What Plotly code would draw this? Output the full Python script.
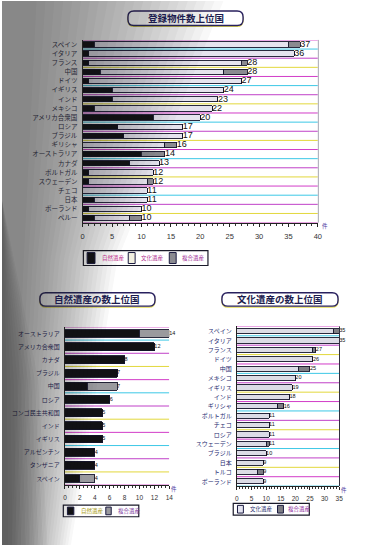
import plotly.graph_objects as go

# ---------------- data ----------------
top_countries = ["スペイン", "イタリア", "フランス", "中国", "ドイツ", "イギリス", "インド", "メキシコ",
                 "アメリカ合衆国", "ロシア", "ブラジル", "ギリシャ", "オーストラリア", "カナダ",
                 "ポルトガル", "スウェーデン", "チェコ", "日本", "ポーランド", "ペルー"]
top_natural = [2, 1, 1, 3, 1, 5, 5, 2, 12, 6, 7, 0, 10, 8, 1, 1, 0, 2, 1, 2]
top_cultural = [33, 35, 26, 21, 26, 19, 18, 20, 8, 11, 10, 14, 0, 5, 11, 10, 11, 9, 9, 6]
top_mixed = [2, 0, 1, 4, 0, 0, 0, 0, 0, 0, 0, 2, 4, 0, 0, 1, 0, 0, 0, 2]

nat_countries = ["オーストラリア", "アメリカ合衆国", "カナダ", "ブラジル", "中国", "ロシア",
                 "コンゴ民主共和国", "インド", "イギリス", "アルゼンチン", "タンザニア", "スペイン"]
nat_natural = [10, 12, 8, 7, 3, 6, 5, 5, 5, 4, 4, 2]
nat_mixed = [4, 0, 0, 0, 4, 0, 0, 0, 0, 0, 0, 2]

cul_countries = ["スペイン", "イタリア", "フランス", "ドイツ", "中国", "メキシコ", "イギリス", "インド",
                 "ギリシャ", "ポルトガル", "チェコ", "ロシア", "スウェーデン", "ブラジル", "日本",
                 "トルコ", "ポーランド"]
cul_cultural = [33, 35, 26, 26, 21, 20, 19, 18, 14, 11, 11, 11, 10, 10, 9, 7, 9]
cul_mixed = [2, 0, 1, 0, 4, 0, 0, 0, 2, 0, 0, 0, 1, 0, 0, 2, 0]

series_names = ["自然遺産", "文化遺産", "複合遺産"]
titles = ["登録物件数上位国", "自然遺産の数上位国", "文化遺産の数上位国"]
unit = "件"
top_ticks = [0, 5, 10, 15, 20, 25, 30, 35, 40]
nat_ticks = [0, 2, 4, 6, 8, 10, 12, 14]
cul_ticks = [0, 5, 10, 15, 20, 25, 30, 35]

# ---------------- style ----------------
W, H = 375, 545
FONT = "Noto Sans CJK JP"
C_NAT = "#111114"
C_CUL = "#e6e4ee"
C_MIX = "#8a8a90"
OUTLINE = "#14142a"
GRID_CYCLE = ["#d23cc8", "#3cc8e6", "#c040c8", "#e2d83c"]


def px(x):
    return x / W


def py(y):
    return 1 - y / H


fig = go.Figure()


def add_bar(x, y, color, xa, ya, width):
    fig.add_trace(go.Bar(
        x=x, y=y, orientation="h", width=width,
        marker=dict(color=color, line=dict(color=OUTLINE, width=0.9)),
        xaxis=xa, yaxis=ya, showlegend=False, hoverinfo="skip"))


def add_values(totals, cats, xa, ya, size):
    fig.add_trace(go.Scatter(
        x=totals, y=cats, mode="text", text=[str(t) for t in totals],
        textposition="middle right", textfont=dict(size=size, color="#111", family="Liberation Sans"),
        xaxis=xa, yaxis=ya, showlegend=False, hoverinfo="skip", cliponaxis=False))


# main chart
add_bar(top_natural, top_countries, C_NAT, "x", "y", 0.58)
add_bar(top_cultural, top_countries, C_CUL, "x", "y", 0.58)
add_bar(top_mixed, top_countries, C_MIX, "x", "y", 0.58)
top_tot = [a + b + c for a, b, c in zip(top_natural, top_cultural, top_mixed)]
add_values(top_tot, top_countries, "x", "y", 9)

# natural chart
add_bar(nat_natural, nat_countries, C_NAT, "x2", "y2", 0.6)
add_bar(nat_mixed, nat_countries, "#9a9a9e", "x2", "y2", 0.6)
nat_tot = [a + b for a, b in zip(nat_natural, nat_mixed)]
add_values(nat_tot, nat_countries, "x2", "y2", 5.5)

# cultural chart
add_bar(cul_cultural, cul_countries, "#dcdce6", "x3", "y3", 0.55)
add_bar(cul_mixed, cul_countries, "#7e7e84", "x3", "y3", 0.55)
cul_tot = [a + b for a, b in zip(cul_cultural, cul_mixed)]
add_values(cul_tot, cul_countries, "x3", "y3", 5.5)


def xaxis_cfg(dom, rng, ticks, fsize, minor_dtick):
    return dict(domain=[px(dom[0]), px(dom[1])], range=rng, tickvals=ticks,
                ticks="outside", ticklen=3, tickcolor="#222", tickwidth=1,
                minor=dict(dtick=minor_dtick, ticks="outside", ticklen=2, tickcolor="#333"),
                showline=True, linecolor="#222", linewidth=1, showgrid=False, zeroline=False,
                tickfont=dict(size=fsize, color="#333", family="Liberation Sans"),
                ticklabelstandoff=3, fixedrange=True)


def yaxis_cfg(dom, n, fsize, color, anchor):
    return dict(domain=[py(dom[1]), py(dom[0])], type="category", range=[n - 0.5, -0.5],
                showline=True, linecolor="#222", linewidth=1, ticks="", showgrid=False,
                zeroline=False, tickfont=dict(size=fsize, color=color, family=FONT),
                ticklabelstandoff=3, anchor=anchor, fixedrange=True)


fig.update_layout(
    width=W, height=H, margin=dict(l=0, r=0, t=0, b=0),
    paper_bgcolor="white", plot_bgcolor="rgba(0,0,0,0)", barmode="stack",
    font=dict(family=FONT), showlegend=False,
    xaxis=dict(anchor="y", **xaxis_cfg((82, 321), [0, 40], top_ticks, 7.5, 1)),
    yaxis=yaxis_cfg((39, 222), len(top_countries), 6.5, "#35354f", "x"),
    xaxis2=dict(anchor="y2", **xaxis_cfg((64, 170), [0, 14], nat_ticks, 6.5, 0.5)),
    yaxis2=yaxis_cfg((326.5, 485), len(nat_countries), 6, "#2a2a66", "x2"),
    xaxis3=dict(anchor="y3", **xaxis_cfg((238.7, 342.7), [0, 35], cul_ticks, 6.5, 1)),
    yaxis3=yaxis_cfg((326, 486), len(cul_countries), 6, "#1e2a70", "x3"),
)

shapes = []
annotations = []

# coloured row separators
for (n, xr, yr, xmax) in [(len(top_countries), "x", "y", 40),
                           (len(nat_countries), "x2", "y2", 14),
                           (len(cul_countries), "x3", "y3", 35)]:
    for i in range(n + 1):
        shapes.append(dict(type="line", xref=xr, yref=yr, x0=0, x1=xmax, y0=i - 0.5, y1=i - 0.5,
                           line=dict(color=GRID_CYCLE[i % len(GRID_CYCLE)], width=1), layer="below"))

# right frame lines
shapes.append(dict(type="line", xref="paper", yref="paper", x0=px(321.5), x1=px(321.5),
                   y0=py(222), y1=py(39), line=dict(color="#9090a0", width=0.8)))
shapes.append(dict(type="line", xref="paper", yref="paper", x0=px(343), x1=px(343),
                   y0=py(486), y1=py(326), line=dict(color="#303040", width=1)))


def rrect(x0, y0, x1, y1, r):
    return (f"M {px(x0 + r)},{py(y0)} L {px(x1 - r)},{py(y0)} "
            f"Q {px(x1)},{py(y0)} {px(x1)},{py(y0 + r)} L {px(x1)},{py(y1 - r)} "
            f"Q {px(x1)},{py(y1)} {px(x1 - r)},{py(y1)} L {px(x0 + r)},{py(y1)} "
            f"Q {px(x0)},{py(y1)} {px(x0)},{py(y1 - r)} L {px(x0)},{py(y0 + r)} "
            f"Q {px(x0)},{py(y0)} {px(x0 + r)},{py(y0)} Z")


# title boxes
for (t, box) in zip(titles, [(128, 10, 245, 24.5), (38.5, 292.3, 155.5, 305.7), (223.5, 292.3, 341.5, 305.7)]):
    x0, y0, x1, y1 = box
    shapes.append(dict(type="path", xref="paper", yref="paper", path=rrect(x0, y0 + 1, x1, y1 + 1, 6),
                       line=dict(color="#e4dc50", width=1.2)))
    shapes.append(dict(type="path", xref="paper", yref="paper", path=rrect(x0, y0, x1, y1, 6),
                       fillcolor="white", line=dict(color="#28205e", width=1.4)))
    annotations.append(dict(text=f"<b>{t}</b>", xref="paper", yref="paper",
                            x=px((x0 + x1) / 2), y=py((y0 + y1) / 2), showarrow=False,
                            xanchor="center", yanchor="middle",
                            font=dict(size=9.5, color="#1c1c4e", family=FONT)))

# unit labels
for (ux, uy) in [(328, 225), (175, 489), (348, 490)]:
    annotations.append(dict(text=unit, xref="paper", yref="paper", x=px(ux), y=py(uy),
                            showarrow=False, xanchor="center", yanchor="middle",
                            font=dict(size=5.5, color="#5040a0", family=FONT)))


# legends
def legend(box, items):
    x0, y0, x1, y1 = box
    shapes.append(dict(type="rect", xref="paper", yref="paper", x0=px(x0), x1=px(x1),
                       y0=py(y1), y1=py(y0), fillcolor="white", line=dict(color="#1a1a2a", width=1.2)))
    for (sx, sw, tx, name, fill, tcol) in items:
        shapes.append(dict(type="rect", xref="paper", yref="paper", x0=px(sx), x1=px(sx + sw),
                           y0=py(y1 - 2), y1=py(y0 + 2), fillcolor=fill,
                           line=dict(color="#1a1a40", width=1)))
        annotations.append(dict(text=name, xref="paper", yref="paper", x=px(tx), y=py((y0 + y1) / 2),
                                showarrow=False, xanchor="left", yanchor="middle",
                                font=dict(size=5.5, color=tcol, family=FONT)))


legend((82.7, 250, 209.3, 265), [
    (86.5, 8, 99.5, series_names[0], C_NAT, "#c0308c"),
    (128.3, 7, 139.5, series_names[1], "#f2f0e0", "#b03090"),
    (170, 7, 181, series_names[2], C_MIX, "#a03098"),
])
legend((62.3, 505, 139, 516.7), [
    (66.5, 6.5, 78, series_names[0], C_NAT, "#a89a10"),
    (105.5, 5.5, 115.5, series_names[2], "#9a9a9e", "#8040a0"),
])
legend((235, 503.3, 312.3, 515), [
    (239.3, 6, 249.5, series_names[1], "#e4e4f0", "#2a3070"),
    (280, 6, 289, series_names[2], "#7e7e84", "#9030a0"),
])

# scanner shadow on the left edge (decoration)
N = 22
for i in range(N):
    f = i / (N - 1)
    wt = 35 + f * 190
    wm = 22 + f * 95
    wb = 10 + f * 60
    shapes.append(dict(type="path", xref="paper", yref="paper",
                       path=(f"M 0,1 L {px(wt)},1 L {px(wm)},{py(260)} "
                             f"L {px(wb)},0 L 0,0 Z"),
                       fillcolor="rgba(20,20,25,0.032)", line=dict(width=0), layer="above"))
M = 10
for i in range(M):
    f = i / (M - 1)
    wb = 6 + f * 40
    shapes.append(dict(type="path", xref="paper", yref="paper",
                       path=f"M 0,{py(200)} L {px(wb * 0.8)},{py(380)} L {px(wb)},0 L 0,0 Z",
                       fillcolor="rgba(20,20,25,0.04)", line=dict(width=0), layer="above"))

fig.update_layout(shapes=shapes, annotations=annotations)
fig.write_html("out.html")
